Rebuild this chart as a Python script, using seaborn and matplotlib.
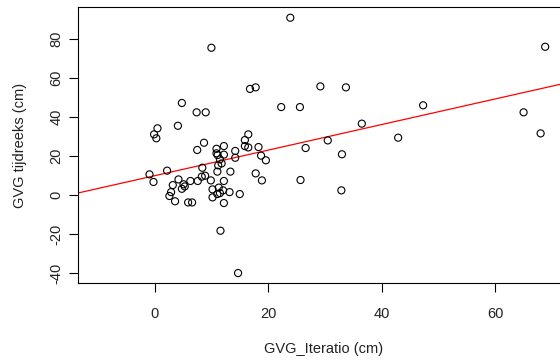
import matplotlib
matplotlib.use("Agg")
import matplotlib.pyplot as plt
import seaborn as sns
import numpy as np
import pandas as pd

# Data
gvg_iteratio = [10.0, 16.8, 17.8, 4.8, 7.4, 9.0, 22.3, 0.5, 4.1, -0.1,
                0.3, 16.5, 15.9, 23.9, 68.8, 29.2, 33.7, 25.6, 47.3, 65.0,
                36.5, 68.0, 30.5, 42.9, 26.6, 33.0, 25.7, 32.9, 8.7, 7.5,
                15.9, 16.5, 10.9, 12.2, 10.9, 11.1, 12.2, 14.2, 14.2, 18.3,
                18.75, 19.6, 11.5, 11.8, 11.2, 8.4, 11.05, 13.35, 17.8, 18.9,
                -0.9, -0.2, 2.2, 4.2, 3.2, 5.1, 4.8, 6.3, 7.6, 8.3,
                8.9, 9.9, 12.2, 2.9, 2.6, 3.6, 5.9, 6.6, 10.2, 11.3,
                12.05, 13.2, 11.05, 11.5, 15.0, 10.2, 12.2, 11.6, 14.7, 5.3]
gvg_tijdreeks = [75.5, 54.4, 55.2, 47.2, 42.4, 42.4, 45.1, 34.2, 35.5, 31.1,
                 29.1, 31.1, 28.2, 90.9, 76.0, 55.7, 55.2, 45.1, 46.0, 42.4,
                 36.6, 31.6, 28.0, 29.4, 24.1, 20.9, 7.7, 2.4, 26.8, 23.1,
                 25.1, 24.4, 23.7, 25.1, 21.4, 20.5, 20.7, 22.6, 19.1, 24.6,
                 20.2, 17.8, 18.3, 16.2, 15.2, 14.0, 12.0, 12.0, 11.1, 7.5,
                 10.6, 6.7, 12.5, 8.0, 5.1, 5.5, 3.2, 7.2, 7.2, 9.4,
                 9.9, 7.5, 7.2, 1.5, -0.5, -3.2, -3.8, -3.8, 2.9, 3.8,
                 2.4, 1.5, 0.5, 1.0, 0.5, -1.2, -4.1, -18.3, -40.0, 4.4]
line_intercept = 9.9
line_slope = 0.656

x_ticks = [0, 20, 40, 60]
y_ticks = [-40, -20, 0, 20, 40, 60, 80]
x_label = "GVG_Iteratio (cm)"
y_label = "GVG tijdreeks (cm)"

df = pd.DataFrame({"x": gvg_iteratio, "y": gvg_tijdreeks})

sns.set_theme(style="white")
plt.rcParams["font.family"] = ["Liberation Sans", "DejaVu Sans"]

fig = plt.figure(figsize=(5.6, 3.6), dpi=100)
W, H = 560, 360
left_px, right_px, top_px, bottom_px = 78, 569, 7, 283
ax = fig.add_axes([left_px / W, 1 - bottom_px / H,
                   (right_px - left_px) / W, (bottom_px - top_px) / H])

sns.scatterplot(data=df, x="x", y="y", ax=ax, marker="o", s=26,
                facecolor="none", edgecolor="black", linewidth=0.8,
                legend=False, zorder=3)
ax.axline((0, line_intercept), slope=line_slope, color="red", lw=0.9, zorder=2)

ax.set_xlim(-13.5, 73.0)
ax.set_ylim(-45.1, 96.4)
ax.set_xticks(x_ticks)
ax.set_yticks(y_ticks)
ax.set_xticklabels([str(t) for t in x_ticks])
ax.set_yticklabels([str(t) for t in y_ticks], rotation=90, va="center")

for s in ax.spines.values():
    s.set_visible(True)
    s.set_color("black")
    s.set_linewidth(0.8)

ax.tick_params(axis="both", which="major", direction="out", length=6.5,
               width=0.8, color="black", labelsize=10.5, labelcolor="#222222",
               bottom=True, left=True)
ax.tick_params(axis="x", pad=11)
ax.tick_params(axis="y", pad=4)

ax.set_xlabel(x_label, fontsize=10.5, color="#222222", labelpad=15)
ax.set_ylabel(y_label, fontsize=10.5, color="#222222", labelpad=16)

fig.savefig("out.png", dpi=100)
